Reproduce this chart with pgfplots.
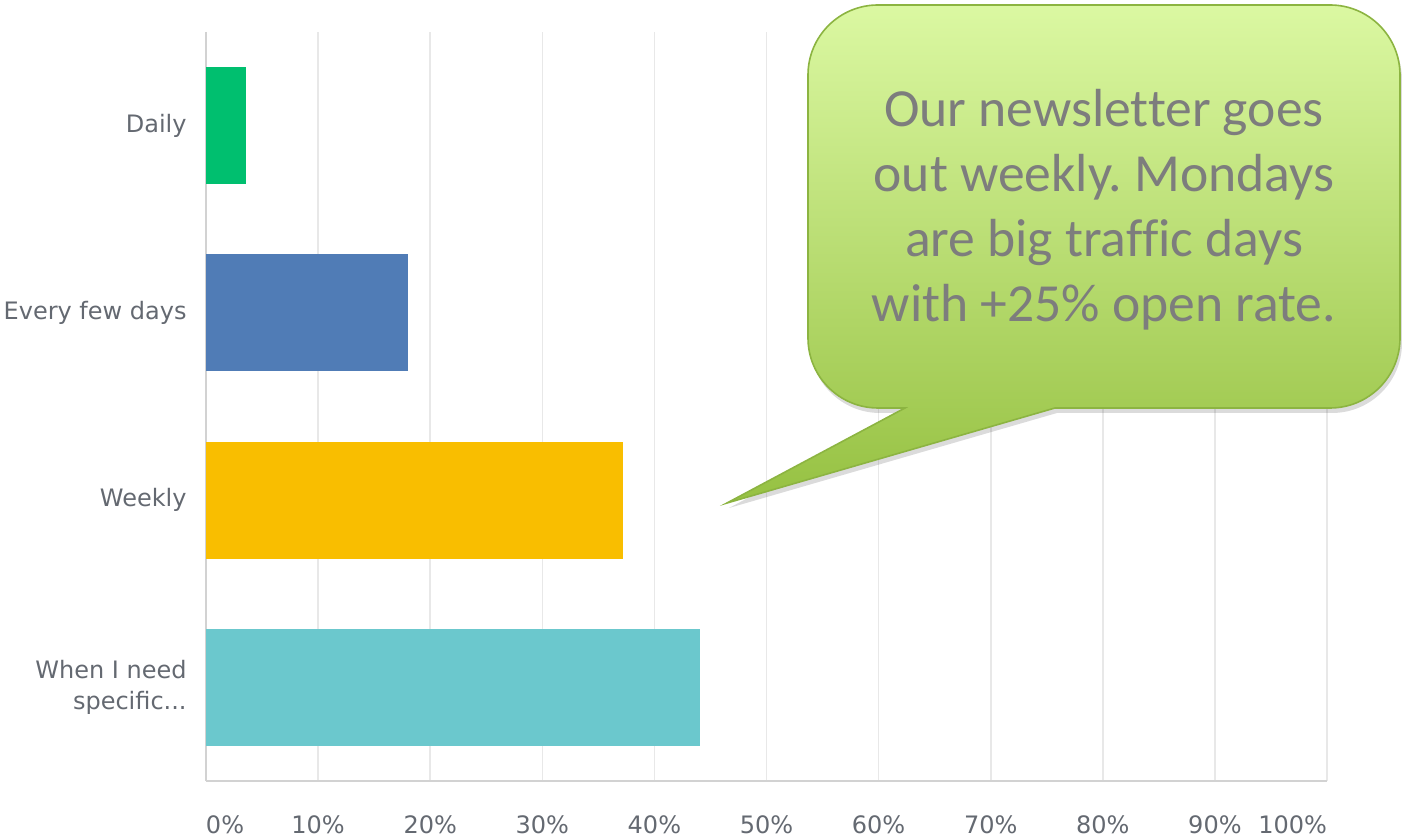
\documentclass[border=0pt]{standalone}
\usepackage{pgfplots}
\pgfplotsset{compat=1.18}
\usetikzlibrary{shadows}
\usepackage{fontspec}
\setmainfont{DejaVu Sans}
\newfontfamily\calloutfont[Ligatures=NoCommon]{Carlito}
\frenchspacing

\definecolor{labgray}{RGB}{100,105,113}
\definecolor{gridgray}{RGB}{232,232,232}
\definecolor{axgray}{RGB}{210,210,210}
\definecolor{cdaily}{RGB}{0,191,111}
\definecolor{cfew}{RGB}{80,124,182}
\definecolor{cweekly}{RGB}{249,190,0}
\definecolor{cneed}{RGB}{107,200,205}
\definecolor{boxtop}{RGB}{219,248,162}
\definecolor{boxbot}{RGB}{150,193,66}
\definecolor{boxline}{RGB}{140,180,65}
\definecolor{boxtext}{RGB}{125,125,125}

\begin{document}
\begin{tikzpicture}
% page = 1402x840 px at 0.5pt per px, axis box lower left at px (206,781)
\path[use as bounding box] (-103pt,-29.5pt) rectangle (598pt,390.5pt);

\begin{axis}[
  at={(0,0)}, anchor=south west,
  scale only axis, width=560.5pt, height=374.5pt,
  xmin=0, xmax=100, ymin=-0.5, ymax=3.5,
  y dir=reverse,
  axis x line*=bottom, axis y line*=left,
  axis line style={draw=axgray, line width=1pt, -},
  xmajorgrids, grid style={draw=gridgray, line width=0.8pt},
  major tick length=0pt,
  xtick={0,10,20,30,40,50,60,70,80,90,100},
  xticklabels={\makebox[0pt][l]{0\%},10\%,20\%,30\%,40\%,50\%,60\%,70\%,80\%,90\%,\makebox[0pt][r]{100\%}},
  ytick={0,1,2,3},
  yticklabels={Daily,Every few days,Weekly,{When I need\\specific.{}.{}.}},
  tick label style={font=\fontsize{12pt}{15.5pt}\selectfont, text=labgray},
  xticklabel style={anchor=north, inner sep=0pt, yshift=-17pt},
  yticklabel style={anchor=east, inner sep=0pt, xshift=-9.5pt, align=right},
  clip=false,
]
\addplot[xbar, bar width=58.5pt, fill=cdaily, draw=none] coordinates {(3.6,0)};
\addplot[xbar, bar width=58.5pt, fill=cfew, draw=none] coordinates {(18.0,1)};
\addplot[xbar, bar width=58.5pt, fill=cweekly, draw=none] coordinates {(37.2,2)};
\addplot[xbar, bar width=58.5pt, fill=cneed, draw=none] coordinates {(44.1,3)};
\end{axis}

% callout, drawn in image pixels (y downwards)
\begin{scope}[shift={(-103pt,390.5pt)}, x=0.5pt, y=-0.5pt]
\shade[top color=boxtop, bottom color=boxbot, draw=boxline, line width=0.8pt,
  drop shadow={shadow xshift=1pt, shadow yshift=-2.5pt, opacity=0.2, fill=black!70}]
  (727,503) -- (1055,408) -- (1330,408)
  arc[start angle=90, end angle=0, radius=70] -- (1400,75)
  arc[start angle=0, end angle=-90, radius=70] -- (878,5)
  arc[start angle=-90, end angle=-180, radius=70] -- (808,338)
  arc[start angle=180, end angle=90, radius=70] -- (905,408) -- cycle;
\node[align=center, text=boxtext, inner sep=0pt,
  font=\calloutfont\fontsize{26.8pt}{32.5pt}\selectfont] at (1104,210)
  {Our newsletter goes\\out weekly. Mondays\\are big traffic days\\with +25\% open rate.};
\end{scope}
\end{tikzpicture}
\end{document}
